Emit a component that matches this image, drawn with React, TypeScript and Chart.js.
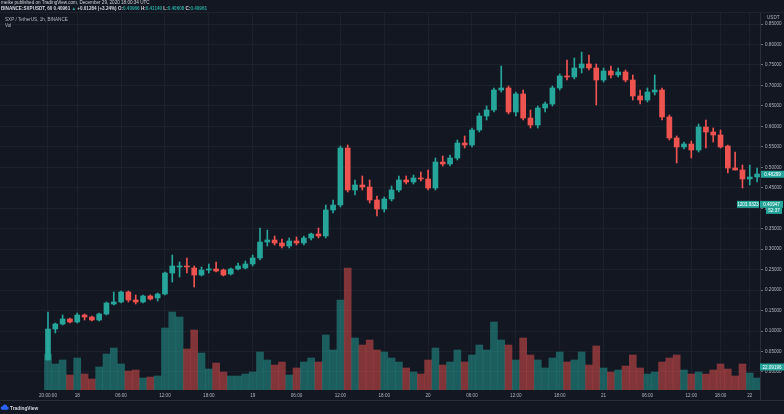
import React, { useEffect, useRef } from 'react';
import { Chart, registerables } from 'chart.js';

Chart.register(...registerables);

// ---- data (SXP/USDT hourly candles) ----
const opens = [0.0293,0.1050,0.1172,0.1295,0.1221,0.1392,0.1343,0.1270,0.1417,0.1661,
0.1710,0.1954,0.1759,0.1710,0.1856,0.1808,0.1905,0.2418,0.2565,0.2589,
0.2540,0.2369,0.2491,0.2516,0.2491,0.2394,0.2516,0.2540,0.2638,0.2785,
0.3175,0.3224,0.3151,0.3078,0.3200,0.3151,0.3273,0.3371,0.3322,0.3957,
0.4079,0.5471,0.4446,0.4568,0.4519,0.4201,0.3981,0.4226,0.4446,0.4690,
0.4641,0.4739,0.4714,0.4494,0.5129,0.5081,0.5227,0.5594,0.5545,0.5911,
0.6253,0.6400,0.6888,0.6937,0.6351,0.6791,0.6204,0.6033,0.6449,0.6546,
0.6937,0.7230,0.7206,0.7426,0.7523,0.7426,0.7132,0.7352,0.7255,0.7328,
0.7132,0.6742,0.6644,0.6839,0.6888,0.6229,0.5716,0.5496,0.5569,0.5423,
0.5984,0.5862,0.5789,0.5520,0.4983,0.4934,0.4714,0.4763];

const highs = [0.1466,0.1197,0.1392,0.1319,0.1441,0.1417,0.1368,0.1441,0.1710,0.1954,
0.1979,0.1979,0.1881,0.1881,0.1881,0.1930,0.2443,0.2858,0.2687,0.2785,
0.2589,0.2565,0.2638,0.2687,0.2516,0.2540,0.2662,0.2711,0.2858,0.3517,
0.3468,0.3322,0.3249,0.3273,0.3298,0.3322,0.3395,0.3517,0.4079,0.4201,
0.5520,0.5545,0.4690,0.4787,0.4690,0.4299,0.4275,0.4543,0.4787,0.4787,
0.4812,0.4885,0.4934,0.5227,0.5276,0.5300,0.5667,0.5765,0.5960,0.6326,
0.6497,0.6937,0.7474,0.6986,0.6839,0.6888,0.6400,0.6497,0.6595,0.6986,
0.7279,0.7621,0.7670,0.7816,0.7743,0.7523,0.7426,0.7474,0.7426,0.7377,
0.7255,0.6888,0.6937,0.7255,0.6937,0.6278,0.5765,0.5618,0.5642,0.6058,
0.6155,0.5960,0.5911,0.5545,0.5374,0.5056,0.5056,0.4983];

const lows = [0.0293,0.0953,0.1148,0.1197,0.1197,0.1270,0.1246,0.1246,0.1392,0.1637,
0.1685,0.1710,0.1661,0.1685,0.1759,0.1734,0.1881,0.2198,0.2320,0.2418,
0.2076,0.2345,0.2418,0.2443,0.2345,0.2369,0.2491,0.2516,0.2589,0.2736,
0.3078,0.3102,0.3029,0.3029,0.3102,0.3102,0.3224,0.3273,0.3273,0.3884,
0.4030,0.4397,0.4324,0.4446,0.4128,0.3810,0.3908,0.4177,0.4397,0.4592,
0.4592,0.4665,0.4446,0.4446,0.5032,0.5032,0.5178,0.5471,0.5496,0.5862,
0.6155,0.6351,0.6839,0.6302,0.6253,0.6155,0.5960,0.5960,0.6351,0.6497,
0.6888,0.7132,0.7157,0.7303,0.7377,0.6522,0.7084,0.7181,0.7206,0.7084,
0.6644,0.6546,0.6595,0.6766,0.6155,0.5667,0.5105,0.5447,0.5227,0.5374,
0.5471,0.5618,0.5471,0.4861,0.4934,0.4494,0.4568,0.4641];

const closes = [0.1050,0.1172,0.1295,0.1221,0.1392,0.1343,0.1270,0.1417,0.1685,0.1710,
0.1954,0.1759,0.1710,0.1856,0.1783,0.1905,0.2418,0.2589,0.2589,0.2565,
0.2369,0.2491,0.2516,0.2467,0.2369,0.2516,0.2589,0.2638,0.2785,0.3175,
0.3224,0.3151,0.3078,0.3200,0.3151,0.3273,0.3371,0.3322,0.3957,0.4079,
0.5471,0.4446,0.4568,0.4519,0.4201,0.3981,0.4226,0.4446,0.4690,0.4641,
0.4739,0.4714,0.4494,0.5129,0.5081,0.5227,0.5594,0.5545,0.5911,0.6253,
0.6400,0.6888,0.6937,0.6351,0.6791,0.6204,0.6033,0.6449,0.6546,0.6937,
0.7230,0.7206,0.7426,0.7523,0.7426,0.7132,0.7352,0.7255,0.7328,0.7132,
0.6742,0.6644,0.6839,0.6888,0.6229,0.5716,0.5496,0.5569,0.5423,0.5984,
0.5862,0.5789,0.5496,0.4983,0.4934,0.4714,0.4763,0.4836];

const volumes = [900,650,750,375,800,400,275,575,900,1050,
650,475,500,300,325,350,1550,1950,1825,1025,
1500,925,525,675,450,350,350,400,450,950,
750,625,700,375,550,700,800,700,1375,1000,
2250,3050,1300,1125,1250,1000,950,800,700,550,
450,400,750,1050,625,700,1000,700,875,1125,
1000,1700,1250,1125,750,1300,875,750,550,800,
950,700,750,950,625,1100,550,450,500,600,
875,550,400,450,700,800,875,500,400,450,
400,500,650,525,350,650,425,300];

const timeTickIndex = [0,4,10,16,22,28,34,40,46,52,58,64,70,76,82,88,92,96];
const timeTickLabels = ['20:00:00','18','06:00','12:00','18:00','19','06:00','12:00','18:00','20','06:00','12:00','18:00','21','06:00','12:00','18:00','22'];

const priceTicks = [0,0.05,0.1,0.15,0.2,0.25,0.3,0.35,0.4,0.45,0.5,0.55,0.6,0.65,0.7,0.75,0.8,0.85];

const lastPriceLabel = 0.48299;
const markPriceLabel = 0.40947;
const markSideLabel = '1203.9323';
const countdownLabel = '52:37';
const volumeLabel = '22.09196';

const headerLine1 = 'meike published on TradingView.com, December 29, 2020 18:00:34 UTC';
const symbolText = 'BINANCE:SXPUSDT, 60';
const ohlcText = { last: '0.40961', change: '+0.01284 (+3.24%)', o: '0.40966', h: '0.41140', l: '0.40608', c: '0.40961' };
const paneTitle = 'SXP / TetherUS, 1h, BINANCE';
const volTitle = 'Vol';

// ---- style ----
const BG = '#131722';
const GREEN = '#26a69a';
const RED = '#ef5350';
const VGREEN = 'rgba(38,166,154,0.5)';
const VRED = 'rgba(239,83,80,0.5)';
const GRID = '#1c202b';
const TEXT = '#b2b5be';
const FONT = "'Liberation Sans', Arial, sans-serif";

const overlayPlugin = {
  id: 'tvOverlay',
  afterDraw(chart: any) {
    const ctx = chart.ctx as CanvasRenderingContext2D;
    const ys = chart.scales.y;
    const area = chart.chartArea;
    ctx.save();
    // frame lines
    ctx.strokeStyle = '#2a2e39';
    ctx.lineWidth = 1;
    ctx.beginPath();
    ctx.moveTo(0, 400.5); ctx.lineTo(784, 400.5);
    ctx.moveTo(area.right + 0.5, area.bottom); ctx.lineTo(area.right + 0.5, 400.5);
    ctx.stroke();
    ctx.strokeStyle = '#1e222d';
    ctx.beginPath();
    ctx.moveTo(0, area.top - 0.5); ctx.lineTo(784, area.top - 0.5);
    ctx.stroke();

    // header texts
    ctx.textBaseline = 'middle';
    ctx.textAlign = 'left';
    ctx.font = `4.6px ${FONT}`;
    ctx.fillStyle = '#d1d4dc';
    ctx.fillText(headerLine1, 1, 2.5);

    ctx.font = `bold 4.6px ${FONT}`;
    let x = 1;
    const run = (t: string, c: string) => { ctx.fillStyle = c; ctx.fillText(t, x, 8.5); x += ctx.measureText(t).width; };
    run(symbolText + ' ', '#d1d4dc');
    run(ohlcText.last + ' ', '#d1d4dc');
    run('▲ ', GREEN);
    run(ohlcText.change + ' ', '#d1d4dc');
    run('O:', '#d1d4dc'); run(ohlcText.o + ' ', GREEN);
    run('H:', '#d1d4dc'); run(ohlcText.h + ' ', GREEN);
    run('L:', '#d1d4dc'); run(ohlcText.l + ' ', GREEN);
    run('C:', '#d1d4dc'); run(ohlcText.c, GREEN);

    ctx.font = `4.6px ${FONT}`;
    ctx.fillStyle = TEXT;
    ctx.fillText(paneTitle, 5, 19.5);
    ctx.fillText(volTitle, 5, 25.5);

    // price axis caption
    ctx.fillText('USDT', 767, 17.5);

    // price label boxes
    const box = (bx: number, cy: number, w: number, h: number, bg: string, t: string, fg: string) => {
      ctx.fillStyle = bg;
      ctx.fillRect(bx, cy - h / 2, w, h);
      ctx.fillStyle = fg;
      ctx.textAlign = 'center';
      ctx.fillText(t, bx + w / 2, cy + 0.3);
      ctx.textAlign = 'left';
    };
    ctx.font = `4.6px ${FONT}`;
    const yLast = ys.getPixelForValue(lastPriceLabel);
    box(761, yLast, 23, 7, GREEN, lastPriceLabel.toFixed(5), '#ffffff');
    const yMark = ys.getPixelForValue(markPriceLabel);
    box(737, yMark, 22, 7, GREEN, markSideLabel, '#ffffff');
    box(760, yMark, 23, 7, GREEN, markPriceLabel.toFixed(5), '#ffffff');
    box(766, yMark + 6.5, 16, 6, GREEN, countdownLabel, '#ffffff');
    box(760, area.bottom - 23, 24, 7, GREEN, volumeLabel, '#ffffff');

    // TradingView logo
    ctx.fillStyle = '#2962ff';
    ctx.beginPath();
    ctx.arc(2.5, 408, 1.8, 0, Math.PI * 2);
    ctx.arc(5, 406.8, 2.3, 0, Math.PI * 2);
    ctx.arc(7.2, 408, 1.6, 0, Math.PI * 2);
    ctx.fill();
    ctx.fillRect(2.5, 407.5, 4.7, 2.3);
    ctx.font = `bold 4.8px ${FONT}`;
    ctx.fillStyle = '#d1d4dc';
    ctx.fillText('TradingView', 10, 408.3);
    ctx.restore();
  },
};

export default function App() {
  const canvasRef = useRef<HTMLCanvasElement>(null);

  useEffect(() => {
    document.body.style.margin = '0';
    document.body.style.background = BG;
    const up = closes.map((c, i) => c >= opens[i]);
    const chart = new Chart(canvasRef.current as HTMLCanvasElement, {
      type: 'bar',
      data: {
        datasets: [
          {
            label: 'body',
            data: opens.map((o, i) => ({ x: i, y: [o, closes[i]] })) as any,
            backgroundColor: up.map((u) => (u ? GREEN : RED)),
            barThickness: 5,
            minBarLength: 1,
            grouped: false,
            order: 0,
            yAxisID: 'y',
          } as any,
          {
            label: 'wick',
            data: lows.map((l, i) => ({ x: i, y: [l, highs[i]] })) as any,
            backgroundColor: up.map((u) => (u ? GREEN : RED)),
            barThickness: 1,
            grouped: false,
            order: 1,
            yAxisID: 'y',
          } as any,
          {
            label: 'volume',
            data: volumes.map((v, i) => ({ x: i, y: v })) as any,
            backgroundColor: up.map((u) => (u ? VGREEN : VRED)),
            barThickness: 7,
            grouped: false,
            order: 2,
            yAxisID: 'y2',
          } as any,
        ],
      },
      options: {
        responsive: false,
        maintainAspectRatio: false,
        animation: false,
        layout: { padding: { top: 13, bottom: 14, left: 0, right: 0 } },
        plugins: { legend: { display: false }, tooltip: { enabled: false } },
        scales: {
          x: {
            type: 'linear',
            min: -6.566,
            max: 97.4,
            offset: false,
            grid: { offset: false, color: GRID, drawTicks: false },
            border: { display: false },
            afterBuildTicks: (s: any) => { s.ticks = timeTickIndex.map((v) => ({ value: v })); },
            afterFit: (s: any) => { s.height = 10; },
            ticks: {
              autoSkip: false,
              maxRotation: 0,
              padding: 3,
              color: TEXT,
              font: { size: 4.6, family: FONT },
              callback: (v: any) => {
                const k = timeTickIndex.indexOf(Number(v));
                return k >= 0 ? timeTickLabels[k] : '';
              },
            },
          } as any,
          y: {
            type: 'linear',
            position: 'right',
            min: -0.04397,
            max: 0.87687,
            grid: { color: GRID, tickColor: '#6a6d78', tickLength: 3 },
            border: { display: true, color: '#2a2e39' },
            afterBuildTicks: (s: any) => { s.ticks = priceTicks.map((v) => ({ value: v })); },
            afterFit: (s: any) => { s.width = 24; },
            ticks: {
              padding: 2,
              color: TEXT,
              font: { size: 4.6, family: FONT },
              callback: (v: any) => Number(v).toFixed(5),
            },
          } as any,
          y2: {
            type: 'linear',
            display: false,
            min: 0,
            max: 9425,
          } as any,
        },
      },
      plugins: [overlayPlugin as any],
    });
    return () => chart.destroy();
  }, []);

  return (
    <div style={{ width: 784, height: 414, background: BG, overflow: 'hidden' }}>
      <canvas ref={canvasRef} width={784} height={414} style={{ display: 'block' }} />
    </div>
  );
}
